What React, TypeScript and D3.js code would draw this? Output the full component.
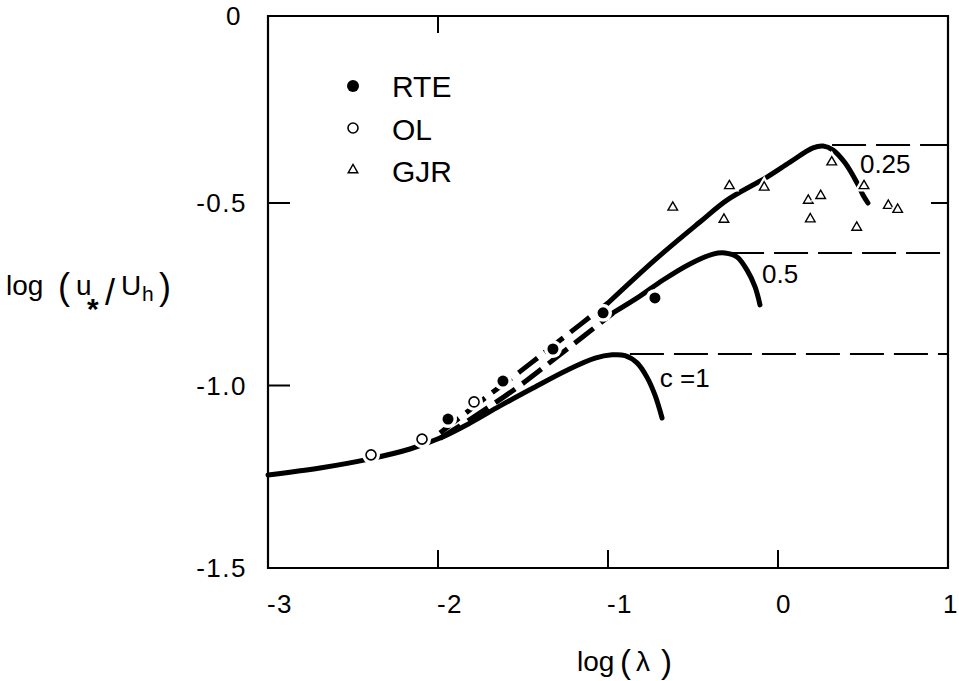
import React from "react";
import * as d3 from "d3";

// axis ticks
const xTicks = [-3, -2, -1, 0, 1];
const xTickLabels = ["-3", "-2", "-1", "0", "1"];
const yTicks = [0, -0.5, -1.0, -1.5];
const yTickLabels = ["0", "-0.5", "-1.0", "-1.5"];

// model curves, [log(lambda), log(u*/Uh)]
const curveC1 = [
  [-3.0, -1.245], [-2.694, -1.226], [-2.4, -1.201], [-2.165, -1.174], [-1.988, -1.144],
  [-1.812, -1.103], [-1.635, -1.056], [-1.441, -1.007], [-1.241, -0.958], [-1.076, -0.925],
  [-0.976, -0.916], [-0.9, -0.918], [-0.829, -0.938], [-0.771, -0.977], [-0.724, -1.026],
  [-0.682, -1.089],
];
const curveC05Dash = [
  [-1.988, -1.145], [-1.753, -1.075], [-1.518, -1.0], [-1.282, -0.915], [-0.971, -0.802],
];
const curveC05 = [
  [-0.971, -0.801], [-0.812, -0.755], [-0.676, -0.711], [-0.518, -0.667], [-0.382, -0.64],
  [-0.312, -0.637], [-0.241, -0.648], [-0.182, -0.684], [-0.135, -0.73], [-0.106, -0.779],
];
const curveC025Dash = [
  [-1.988, -1.13], [-1.753, -1.045], [-1.518, -0.962], [-1.282, -0.876], [-1.0, -0.774],
];
const curveC025 = [
  [-1.0, -0.774], [-0.712, -0.651], [-0.459, -0.552], [-0.3, -0.492], [-0.065, -0.429],
  [0.071, -0.388], [0.206, -0.349], [0.265, -0.344], [0.324, -0.355], [0.394, -0.39],
  [0.465, -0.445], [0.5, -0.478], [0.529, -0.5],
];

// horizontal dashed limits of each curve
const limitLevels = [-0.341, -0.637, -0.914];
const limitStarts = [0.318, -0.282, -0.871];

// curve labels
const curveLabels = ["0.25", "0.5", "c =1"];
const curveLabelX = [0.482, -0.094, -0.695];
const curveLabelY = [-0.418, -0.719, -1.004];

// measurements
const rte = [
  [-1.941, -1.092], [-1.618, -0.988], [-1.324, -0.9], [-1.029, -0.801], [-0.724, -0.76],
];
const ol = [
  [-2.394, -1.19], [-2.094, -1.147], [-1.788, -1.045],
];
const gjr = [
  [-0.619, -0.512], [-0.286, -0.453], [-0.318, -0.545], [-0.081, -0.457], [0.316, -0.388],
  [0.178, -0.493], [0.251, -0.48], [0.19, -0.544], [0.506, -0.453], [0.463, -0.567],
  [0.649, -0.507], [0.704, -0.518],
];

const legendNames = ["RTE", "OL", "GJR"];

export default function App() {
  const W = 959, H = 681;
  const x = d3.scaleLinear().domain([-3, 1]).range([268, 948]);
  const y = d3.scaleLinear().domain([-1.5, 0]).range([568, 20.5]);
  const top = 16;
  const font = "'Liberation Sans', Arial, Helvetica, sans-serif";

  const line = d3.line<number[]>()
    .x(d => x(d[0]))
    .y(d => y(d[1]))
    .curve(d3.curveCatmullRom.alpha(0.5));

  const tri = d3.symbol().type(d3.symbolTriangle).size(40)();

  const curveStyle = { fill: "none", stroke: "#000", strokeWidth: 5, strokeLinecap: "round" as const };

  return (
    <svg width={W} height={H} style={{ position: "absolute", left: 0, top: 0, background: "#fff" }}
      fontFamily={font}>
      {/* frame */}
      <path d={`M${x(-3)},${top}H${x(1)}V${y(-1.5)}H${x(-3)}Z`} fill="none" stroke="#000" strokeWidth={2.2} />
      {/* ticks */}
      {[-0.5, -1.0].map(v => (
        <line key={"l" + v} x1={x(-3)} x2={x(-3) + 22} y1={y(v)} y2={y(v)} stroke="#000" strokeWidth={2} />
      ))}
      {[-2, -1, 0].map(v => (
        <line key={"b" + v} x1={x(v)} x2={x(v)} y1={y(-1.5)} y2={y(-1.5) - 18} stroke="#000" strokeWidth={2} />
      ))}
      <line x1={x(-2)} x2={x(-2)} y1={top} y2={top + 17} stroke="#000" strokeWidth={2} />
      <line x1={x(1)} x2={x(1) - 17} y1={y(-0.5)} y2={y(-0.5)} stroke="#000" strokeWidth={2} />

      {/* tick labels */}
      {yTicks.map((v, i) => (
        <text key={"yt" + v} x={v === 0 ? 242 : 247} y={v === 0 ? 16 : y(v)} textAnchor="end"
          dominantBaseline="central" fontSize={26} letterSpacing={1.5}>{yTickLabels[i]}</text>
      ))}
      {xTicks.map((v, i) => (
        <text key={"xt" + v} x={x(v) + (v < 0 ? 12 : v === 0 ? 6 : 3)} y={613} textAnchor="middle"
          fontSize={26} letterSpacing={1.5}>
          {xTickLabels[i]}
        </text>
      ))}

      {/* axis titles */}
      <g fontSize={28}>
        <text x={6} y={295}>log</text>
        <text x={58} y={299} fontSize={36}>(</text>
        <text x={76} y={295}>u</text>
        <text x={87} y={319} fontSize={30} fontWeight="bold">*</text>
        <text x={105} y={305} fontSize={36}>/</text>
        <text x={121} y={295}>U</text>
        <text x={142} y={301} fontSize={21}>h</text>
        <text x={159} y={299} fontSize={36}>)</text>
      </g>
      <g fontSize={28}>
        <text x={577} y={671}>log</text>
        <text x={620} y={673} fontSize={33}>(</text>
        <text x={636} y={671}>λ</text>
        <text x={661} y={673} fontSize={33}>)</text>
      </g>

      {/* limits */}
      {limitLevels.map((v, i) => (
        <line key={"lim" + i} x1={x(limitStarts[i])} x2={x(1)} y1={y(v)} y2={y(v)}
          stroke="#000" strokeWidth={2} strokeDasharray="34 10" />
      ))}

      {/* curves */}
      <path d={line(curveC1) || ""} {...curveStyle} />
      <path d={line(curveC05Dash) || ""} {...curveStyle} strokeLinecap="butt" strokeDasharray="24 9" />
      <path d={line(curveC05) || ""} {...curveStyle} />
      <path d={line(curveC025Dash) || ""} {...curveStyle} strokeLinecap="butt" strokeDasharray="24 9" />
      <path d={line(curveC025) || ""} {...curveStyle} />

      {curveLabels.map((t, i) => (
        <text key={t} x={x(curveLabelX[i])} y={y(curveLabelY[i])} fontSize={26}>{t}</text>
      ))}

      {/* data points */}
      {rte.map((d, i) => (
        <g key={"r" + i} transform={`translate(${x(d[0])},${y(d[1])})`}>
          <circle r={9} fill="#fff" />
          <circle r={5.5} fill="#000" />
        </g>
      ))}
      {ol.map((d, i) => (
        <g key={"o" + i} transform={`translate(${x(d[0])},${y(d[1])})`}>
          <circle r={9} fill="#fff" />
          <circle r={5} fill="#fff" stroke="#000" strokeWidth={1.6} />
        </g>
      ))}
      {gjr.map((d, i) => (
        <g key={"g" + i} transform={`translate(${x(d[0])},${y(d[1])})`}>
          <path d={tri || ""} fill="#fff" stroke="#fff" strokeWidth={6} />
          <path d={tri || ""} fill="#fff" stroke="#000" strokeWidth={1.4} />
        </g>
      ))}

      {/* legend */}
      <g>
        <circle cx={353} cy={86} r={6} fill="#000" />
        <circle cx={353} cy={128} r={5} fill="#fff" stroke="#000" strokeWidth={1.6} />
        <path d={tri || ""} transform="translate(353,170)" fill="#fff" stroke="#000" strokeWidth={1.4} />
        {legendNames.map((t, i) => (
          <text key={t} x={392} y={[97, 140, 182][i]} fontSize={30}>{t}</text>
        ))}
      </g>
    </svg>
  );
}
